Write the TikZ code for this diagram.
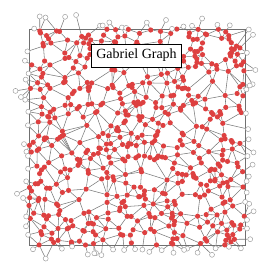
\documentclass[tikz,border=0pt]{standalone}
\usepackage{fontspec}
\setmainfont{Liberation Serif}
\pgfdeclarelayer{edgelayer}
\pgfsetlayers{edgelayer,main}
\definecolor{dotred}{HTML}{DD4040}
\definecolor{edgegray}{HTML}{7A7A7A}
\definecolor{framegray}{HTML}{707070}
\definecolor{outgray}{HTML}{A0A0A0}
\tikzset{
  rdot/.style={circle,fill=dotred,inner sep=0pt,minimum size=5.2pt},
  odot/.style={circle,draw=outgray,fill=white,line width=0.5pt,inner sep=0pt,minimum size=5pt},
  gedge/.style={draw=edgegray,line width=0.55pt},
  gframe/.style={draw=framegray,line width=0.9pt},
  gtitle/.style={draw=black,fill=white,line width=0.8pt,inner xsep=5pt,inner ysep=0pt,minimum height=23pt,font=\fontsize{14}{16}\selectfont}
}
\makeatletter
\def\gNum{750}
\newcount\gN \gN=\gNum\relax
\newcount\gi \newcount\gj \newcount\gt
\newcount\gpx \newcount\gpy \newcount\gqx \newcount\gqy
\newcount\gd \newcount\gseed
\gseed=314159
\def\gDD{160000}
\def\grand{%
  \gt=\gseed \divide\gt by 127773
  \gseed=\numexpr16807*(\gseed-\gt*127773)-2836*\gt\relax
  \ifnum\gseed<0 \advance\gseed by 2147483647 \fi}
\def\gcoord#1{\grand\gt=\gseed\divide\gt by 2561 #1=\numexpr\gseed-\gt*2561+90\relax}
% generate points
\gi=0
\loop\ifnum\gi<\gN
  \advance\gi by 1
  \gcoord\gpx \gcoord\gpy
  \expandafter\xdef\csname gx\the\gi\endcsname{\the\gpx}%
  \expandafter\xdef\csname gy\the\gi\endcsname{\the\gpy}%
  \expandafter\gdef\csname gl\the\gi\endcsname{}%
  \def\gtin{1}%
  \ifnum\gpx<290 \def\gtin{0}\fi
  \ifnum\gpx>2450 \def\gtin{0}\fi
  \ifnum\gpy<290 \def\gtin{0}\fi
  \ifnum\gpy>2450 \def\gtin{0}\fi
  \expandafter\xdef\csname gin\the\gi\endcsname{\gtin}%
\repeat
% neighbour lists
\gi=0
\loop\ifnum\gi<\gN
  \advance\gi by 1
  \gpx=\csname gx\the\gi\endcsname\relax
  \gpy=\csname gy\the\gi\endcsname\relax
  {\gj=\gi
   \loop\ifnum\gj<\gN
     \advance\gj by 1
     \gd=\numexpr(\csname gx\the\gj\endcsname-\gpx)*(\csname gx\the\gj\endcsname-\gpx)+(\csname gy\the\gj\endcsname-\gpy)*(\csname gy\the\gj\endcsname-\gpy)\relax
     \ifnum\gd<\gDD\relax
       \expandafter\xdef\csname gl\the\gi\endcsname{\csname gl\the\gi\endcsname\the\gj,}%
       \expandafter\xdef\csname gl\the\gj\endcsname{\csname gl\the\gj\endcsname\the\gi,}%
     \fi
   \repeat}%
\repeat
% gabriel test
\let\gE\relax
\gdef\gedges{}
\def\gaddedge{%
  \ifnum\numexpr\csname gin\the\gi\endcsname+\csname gin\the\gj\endcsname\relax>0
    \xdef\gedges{\gedges\gE{\the\gi}{\the\gj}}%
    \expandafter\gdef\csname gsh\the\gi\endcsname{1}%
    \expandafter\gdef\csname gsh\the\gj\endcsname{1}%
  \fi}
\def\gwaccept#1\gend{\gaddedge}
\def\gwreject#1\gend{}
\def\gw#1,{%
  \ifnum#1=0
    \expandafter\gwaccept
  \else
    \ifnum\numexpr(\csname gx#1\endcsname-\gpx)*(\csname gx#1\endcsname-\gqx)+(\csname gy#1\endcsname-\gpy)*(\csname gy#1\endcsname-\gqy)\relax<0
      \expandafter\expandafter\expandafter\gwreject
    \else
      \expandafter\expandafter\expandafter\gw
    \fi
  \fi}
\def\gcand#1,{%
  \ifnum#1=0 \else
    \ifnum#1>\gi
      \gj=#1\relax
      \gqx=\csname gx#1\endcsname\relax
      \gqy=\csname gy#1\endcsname\relax
      \expandafter\gw\glist0,\gend
    \fi
    \expandafter\gcand
  \fi}
\gi=0
\loop\ifnum\gi<\gN
  \advance\gi by 1
  \gpx=\csname gx\the\gi\endcsname\relax
  \gpy=\csname gy\the\gi\endcsname\relax
  \edef\glist{\csname gl\the\gi\endcsname}%
  \expandafter\gcand\glist0,%
\repeat
\makeatother
\begin{document}
\begin{tikzpicture}[x=0.1pt,y=-0.1pt]
\useasboundingbox (0,0) rectangle (2740,2740);
\draw[gframe] (290,290) rectangle (2450,2450);
\foreach \i in {1,...,\gNum}{%
  \edef\cx{\csname gx\i\endcsname}\edef\cy{\csname gy\i\endcsname}%
  \ifnum\csname gin\i\endcsname=1
    \node[rdot] (p\i) at (\cx,\cy) {};%
  \else
    \ifcsname gsh\i\endcsname
      \node[odot] (p\i) at (\cx,\cy) {};%
    \fi
  \fi
}
\begin{pgfonlayer}{edgelayer}
\def\gE#1#2{\draw[gedge] (p#1) -- (p#2);}
\gedges
\end{pgfonlayer}
\node[gtitle] (title) at (1365,555) {Gabriel Graph};
\end{tikzpicture}
\end{document}
